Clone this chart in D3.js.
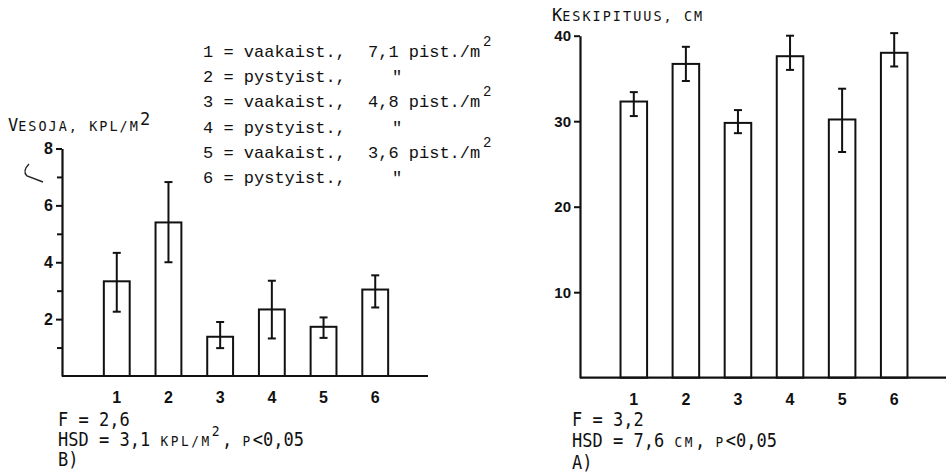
<!DOCTYPE html>
<html>
<head>
<meta charset="utf-8">
<script src="https://cdn.jsdelivr.net/npm/d3@7"></script>
<style>
  body { margin: 0; background: #fff; }
  svg { display: block; }
  .tick text { font-family: "Liberation Sans", Arial, sans-serif; font-weight: bold; fill: #111; }
  .mono { font-family: "DejaVu Sans Mono", monospace; fill: #111; }
  .legend { font-family: "Liberation Mono", "Courier New", monospace; fill: #111; font-size: 17px; }
</style>
</head>
<body>
<svg id="chart" width="948" height="474"></svg>
<script>
// treatment numbers on the x axis
const categories = ["1", "2", "3", "4", "5", "6"];

// B) Vesoja, kpl/m2 (mean + error bar ends)
const vesojaMeans = [3.33, 5.4, 1.38, 2.34, 1.73, 3.04];
const vesojaLow = [2.26, 4.0, 0.98, 1.32, 1.34, 2.41];
const vesojaHigh = [4.33, 6.82, 1.9, 3.35, 2.06, 3.54];
const vesojaTicks = [2, 4, 6, 8];
const vesojaMinorTicks = [1, 3, 5, 7];

// A) Keskipituus, cm
const pituusMeans = [32.3, 36.7, 29.8, 37.6, 30.2, 38.0];
const pituusLow = [30.6, 34.7, 28.6, 36.0, 26.4, 36.4];
const pituusHigh = [33.4, 38.7, 31.3, 40.0, 33.8, 40.3];
const pituusTicks = [10, 20, 30, 40];

// legend: treatment key
const legendTypes = ["vaakaist.,", "pystyist.,", "vaakaist.,", "pystyist.,", "vaakaist.,", "pystyist.,"];
const legendDensity = ["7,1", "", "4,8", "", "3,6", ""];

let svg = d3.select("#chart");

/**
 * Writes a line of typewriter text. Every char gets the same advance,
 * small caps are drawn smaller but keep the spacing.
 */
function monoLine(g, x, y, segs, o) {
    let t = g.append("text")
        .attr("class", "mono")
        .attr("transform", "translate(" + x + "," + y + ") scale(1," + o.scaleY + ")");
    let i = 0;
    segs.forEach(function (s) {
        let size = s.sc ? o.small : (s.sup ? o.sup : o.size);
        t.append("tspan")
            .attr("x", i * o.adv)
            .attr("y", s.sup ? -o.raise : 0)
            .style("font-size", size + "px")
            .style("letter-spacing", (o.adv - size * 0.602) + "px")
            .style("white-space", "pre")
            .text(s.t);
        i += s.t.length;
    });
}

function drawPanel(p) {
    let g = svg.append("g");

    let x = d3.scaleBand()
        .domain(categories)
        .range(p.xRange)
        .padding(p.pad);

    let y = d3.scaleLinear()
        .domain(p.yDomain)
        .range(p.yRange);

    // y axis with labelled ticks
    let yAxis = d3.axisLeft(y)
        .tickValues(p.ticks)
        .tickSize(6)
        .tickSizeOuter(0)
        .tickPadding(3);
    let ya = g.append("g")
        .attr("transform", "translate(" + p.axisX + ",0)")
        .call(yAxis);
    ya.select(".domain").attr("stroke", "#111").attr("stroke-width", 2.2);
    ya.selectAll(".tick line").attr("stroke", "#111").attr("stroke-width", 2);
    ya.selectAll(".tick text").style("font-size", p.tickFont + "px");

    if (p.minor) {
        let ym = g.append("g")
            .attr("transform", "translate(" + p.axisX + ",0)")
            .call(d3.axisLeft(y).tickValues(p.minor).tickSize(5).tickFormat(""));
        ym.select(".domain").remove();
        ym.selectAll(".tick line").attr("stroke", "#111").attr("stroke-width", 2);
    }

    // bars
    let data = categories.map(function (c, i) {
        return {c: c, m: p.means[i], lo: p.low[i], hi: p.high[i]};
    });

    g.selectAll("rect.bar")
        .data(data)
        .enter().append("rect")
        .attr("class", "bar")
        .attr("x", d => x(d.c))
        .attr("y", d => y(d.m))
        .attr("width", x.bandwidth())
        .attr("height", d => y(0) - y(d.m))
        .attr("fill", "#fff")
        .attr("stroke", "#111")
        .attr("stroke-width", 2);

    // error bars
    let eb = g.selectAll("g.err")
        .data(data)
        .enter().append("g")
        .attr("class", "err")
        .attr("stroke", "#111")
        .attr("stroke-width", 2);
    eb.append("line")
        .attr("x1", d => x(d.c) + x.bandwidth() / 2)
        .attr("x2", d => x(d.c) + x.bandwidth() / 2)
        .attr("y1", d => y(d.lo))
        .attr("y2", d => y(d.hi));
    eb.append("line")
        .attr("x1", d => x(d.c) + x.bandwidth() / 2 - 4)
        .attr("x2", d => x(d.c) + x.bandwidth() / 2 + 4)
        .attr("y1", d => y(d.hi))
        .attr("y2", d => y(d.hi));
    eb.append("line")
        .attr("x1", d => x(d.c) + x.bandwidth() / 2 - 4)
        .attr("x2", d => x(d.c) + x.bandwidth() / 2 + 4)
        .attr("y1", d => y(d.lo))
        .attr("y2", d => y(d.lo));

    // baseline
    g.append("line")
        .attr("x1", p.axisX)
        .attr("x2", p.axisEnd)
        .attr("y1", y(0))
        .attr("y2", y(0))
        .attr("stroke", "#111")
        .attr("stroke-width", 2.2);

    // category labels
    let xa = g.append("g")
        .attr("transform", "translate(0," + y(0) + ")")
        .call(d3.axisBottom(x).tickSize(0).tickPadding(p.xPad));
    xa.select(".domain").remove();
    xa.selectAll(".tick text").style("font-size", "16px");

    // axis title
    monoLine(g, p.titleX, p.titleY, p.title,
        {adv: 10.15, size: 17, small: 13.5, sup: 17, raise: 6, scaleY: 1.02});

    // stats below
    p.notes.forEach(function (n, i) {
        monoLine(g, p.noteX, p.noteY[i], n,
            {adv: 10.25, size: 17, small: 12.8, sup: 13, raise: 8.5, scaleY: 1.13});
    });
}

drawPanel({
    xRange: [78, 414], pad: 0.5,
    yDomain: [0, 8], yRange: [376, 148.5],
    axisX: 62, axisEnd: 428,
    ticks: vesojaTicks, minor: vesojaMinorTicks, tickFont: 16,
    means: vesojaMeans, low: vesojaLow, high: vesojaHigh,
    xPad: 15.5,
    titleX: 8, titleY: 131,
    title: [{t: "V"}, {t: "ESOJA, KPL/M", sc: true}, {t: "2", sup: true}],
    noteX: 58, noteY: [425.7, 445.7, 465.7],
    notes: [
        [{t: "F = 2,6"}],
        [{t: "HSD = 3,1 "}, {t: "KPL/M", sc: true}, {t: "2", sup: true}, {t: ", "}, {t: "P", sc: true}, {t: "<0,05"}],
        [{t: "B)"}]
    ]
});

drawPanel({
    xRange: [595, 933], pad: 0.49,
    yDomain: [0, 40], yRange: [377.7, 35.7],
    axisX: 580, axisEnd: 946,
    ticks: pituusTicks, minor: null, tickFont: 15,
    means: pituusMeans, low: pituusLow, high: pituusHigh,
    xPad: 15.5,
    titleX: 552, titleY: 20.7,
    title: [{t: "K"}, {t: "ESKIPITUUS, CM", sc: true}],
    noteX: 572, noteY: [426, 447, 469],
    notes: [
        [{t: "F = 3,2"}],
        [{t: "HSD = 7,6 "}, {t: "CM", sc: true}, {t: ", "}, {t: "P", sc: true}, {t: "<0,05"}],
        [{t: "A)"}]
    ]
});

// treatment key
let lg = svg.append("g").attr("class", "legend");
legendTypes.forEach(function (t, i) {
    let yy = 57 + 25.2 * i;
    lg.append("text")
        .attr("x", 203).attr("y", yy)
        .style("white-space", "pre")
        .text(categories[i] + " = " + t);
    if (legendDensity[i]) {
        lg.append("text")
            .attr("x", 368).attr("y", yy)
            .style("white-space", "pre")
            .text(legendDensity[i] + " pist./m");
        lg.append("text")
            .attr("x", 483).attr("y", yy - 11)
            .style("font-size", "14px")
            .text("2");
    } else {
        lg.append("text")
            .attr("x", 397).attr("y", yy)
            .attr("text-anchor", "middle")
            .text("\"");
    }
});

// pencil mark next to the left axis in the scan
svg.append("path")
    .attr("d", "M29,164 Q22,171 27,176 L43,182")
    .attr("fill", "none")
    .attr("stroke", "#222")
    .attr("stroke-width", 1.4);
</script>
</body>
</html>
